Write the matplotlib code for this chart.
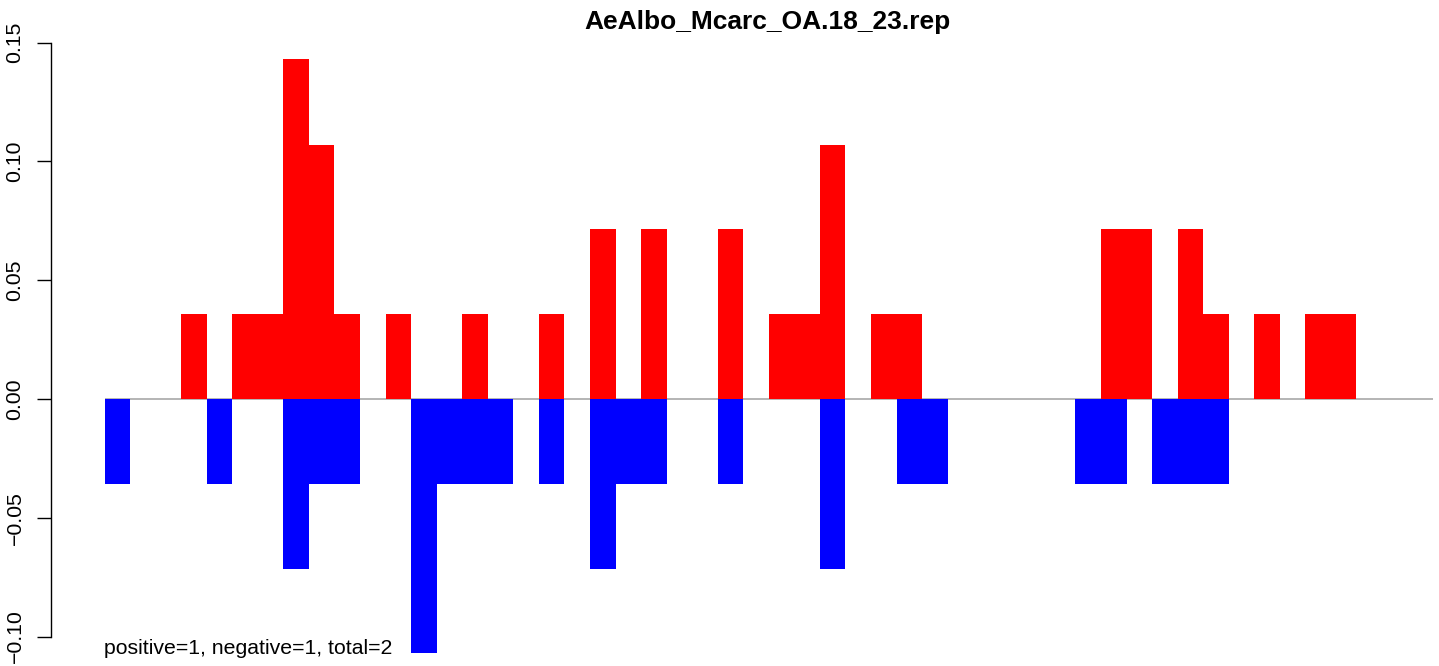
import matplotlib
matplotlib.use("Agg")
import matplotlib.pyplot as plt
import numpy as np

plt.rcParams['font.family'] = ['Liberation Sans', 'DejaVu Sans']

title = "AeAlbo_Mcarc_OA.18_23.rep"
note = "positive=1, negative=1, total=2"

# 52 bins (multiples of ~0.0357)
positive = [0, 0, 0, 0.0357, 0, 0.0357, 0.0357, 0.1429, 0.1071, 0.0357,
            0, 0.0357, 0, 0, 0.0357, 0, 0, 0.0357, 0, 0.0714,
            0, 0.0714, 0, 0, 0.0714, 0, 0.0357, 0.0357, 0.1071, 0,
            0.0357, 0.0357, 0, 0, 0, 0, 0, 0, 0, 0.0714,
            0.0714, 0, 0.0714, 0.0357, 0, 0.0357, 0, 0.0357, 0.0357, 0,
            0, 0]
negative = [-0.0357, 0, 0, 0, -0.0357, 0, 0, -0.0714, -0.0357, -0.0357,
            0, 0, -0.1071, -0.0357, -0.0357, -0.0357, 0, -0.0357, 0, -0.0714,
            -0.0357, -0.0357, 0, 0, -0.0357, 0, 0, 0, -0.0714, 0,
            0, -0.0357, -0.0357, 0, 0, 0, 0, 0, -0.0357, -0.0357,
            0, -0.0357, -0.0357, -0.0357, 0, 0, 0, 0, 0, 0,
            0, 0]
yticks = [-0.10, -0.05, 0.00, 0.05, 0.10, 0.15]
ytick_labels = ["\u22120.10", "\u22120.05", "0.00", "0.05", "0.10", "0.15"]

W, H = 1439, 666
fig = plt.figure(figsize=(W / 100, H / 100), dpi=100)
ax_left, ax_right = 51, 1439
ax_top, ax_bot = 35, 666
ax = fig.add_axes([ax_left / W, 1 - ax_bot / H, (ax_right - ax_left) / W, (ax_bot - ax_top) / H])

n = len(positive)
x = np.arange(n)
bw = 25.55
x0 = (ax_left - 104.5) / bw
x1 = (ax_right - 104.5) / bw
ax.set_xlim(x0, x1)
y0 = 0.05 * (399 - ax_top) / 118.8
y1 = -0.05 * (ax_bot - 399) / 118.8
ax.set_ylim(y1, y0)

ax.hlines(0, 0, n, color="#a0a0a0", lw=1.1, zorder=1)
ax.bar(x, positive, width=1.0, align="edge", color="#ff0000", linewidth=0, zorder=2)
ax.bar(x, negative, width=1.0, align="edge", color="#0000ff", linewidth=0, zorder=2)

for s in ["top", "right", "bottom"]:
    ax.spines[s].set_visible(False)
ax.spines["left"].set_bounds(-0.10, 0.15)
ax.spines["left"].set_linewidth(1.0)
ax.set_xticks([])
ax.set_yticks(yticks)
ax.set_yticklabels(ytick_labels, rotation=90, va="center", fontsize=15.3)
ax.tick_params(axis="y", length=10, width=1.0, pad=9)

fig.text(767 / W, 1 - 22 / H, title, ha="center", va="center", fontsize=19, fontweight="bold")
fig.text(104 / W, 1 - 648 / H, note, ha="left", va="center", fontsize=15.3)

fig.savefig("out.png", dpi=100)
